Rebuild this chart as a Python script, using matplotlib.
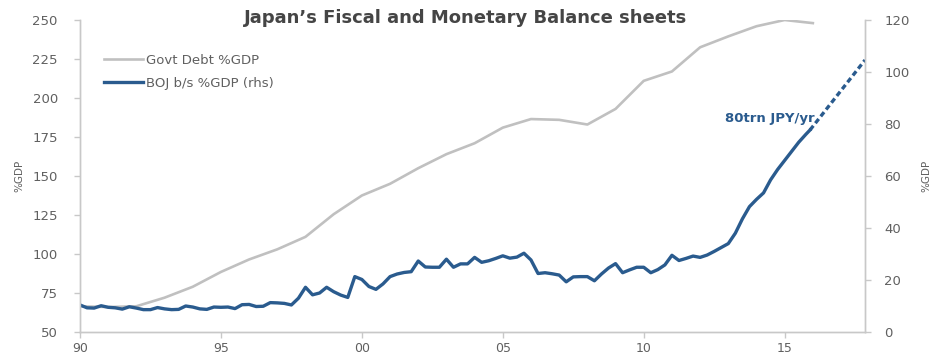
import matplotlib
matplotlib.use("Agg")
import matplotlib.pyplot as plt
from matplotlib.lines import Line2D

# Govt debt, % GDP (annual, left axis)
debt_years = [1990, 1991, 1992, 1993, 1994, 1995, 1996, 1997, 1998, 1999,
              2000, 2001, 2002, 2003, 2004, 2005, 2006, 2007, 2008, 2009,
              2010, 2011, 2012, 2013, 2014, 2015, 2016]
debt_gdp = [66.5, 66.0, 66.5, 72.0, 79.0, 88.5, 96.5, 103.0, 111.0, 125.5,
            137.5, 145.0, 155.0, 164.0, 171.0, 181.0, 186.5, 186.0, 183.0, 193.0,
            211.0, 217.0, 232.5, 239.5, 246.0, 250.0, 248.0]

# BOJ balance sheet, % GDP (quarterly, right axis)
boj_dates = [1990 + 0.25 * i for i in range(104)] + [2015.9]
boj_gdp = [10.4, 9.3, 9.2, 10.1, 9.5, 9.3, 8.8, 9.7, 9.2, 8.6, 8.6, 9.4,
           8.9, 8.6, 8.7, 10.0, 9.6, 8.9, 8.7, 9.6, 9.5, 9.6, 9.0, 10.5,
           10.6, 9.8, 9.9, 11.3, 11.2, 11.0, 10.4, 13.0, 17.2, 14.3, 15.0, 17.2,
           15.5, 14.2, 13.3, 21.3, 20.2, 17.5, 16.4, 18.5, 21.3, 22.3, 22.9, 23.2,
           27.3, 25.0, 24.9, 24.9, 28.0, 24.9, 26.2, 26.2, 28.7, 26.8, 27.4, 28.3,
           29.3, 28.4, 28.8, 30.3, 27.7, 22.5, 22.8, 22.4, 21.9, 19.3, 21.2, 21.3,
           21.3, 19.7, 22.3, 24.6, 26.3, 22.8, 23.9, 24.9, 24.9, 22.8, 24.0, 25.8,
           29.5, 27.5, 28.3, 29.2, 28.7, 29.6, 31.0, 32.5, 34.0, 38.0, 43.5, 48.2,
           51.0, 53.5, 58.5, 62.5, 66.0, 69.5, 73.0, 76.0, 77.7]

# projection at 80trn JPY/yr
proj_dates = [2015.9, 2017.85]
proj_gdp = [77.7, 104.6]

left_ticks = [50, 75, 100, 125, 150, 175, 200, 225, 250]
right_ticks = [0, 20, 40, 60, 80, 100, 120]
x_ticks = [1990, 1995, 2000, 2005, 2010, 2015]
x_labels = ['90', '95', '00', '05', '10', '15']

GREY = '#c0c0c0'
BLUE = '#2a5b8e'
TXT = '#606060'
AXC = '#c8c8c8'

fig = plt.figure(figsize=(9.31, 3.56), dpi=100)
ax = fig.add_axes([80 / 931, 24 / 356, 785 / 931, 312 / 356])
ax2 = ax.twinx()

ax.plot(debt_years, debt_gdp, color=GREY, lw=1.9, zorder=2)
ax2.plot(boj_dates, boj_gdp, color=BLUE, lw=2.4, solid_joinstyle='round')
ax2.plot(proj_dates, proj_gdp, color=BLUE, lw=2.4, linestyle=(0, (1.6, 1.0)))

ax.set_xlim(1990, 2017.85)
ax.set_ylim(50, 250)
ax2.set_ylim(0, 120)
ax.set_xticks(x_ticks)
ax.set_xticklabels(x_labels)
ax.set_yticks(left_ticks)
ax2.set_yticks(right_ticks)

for a in (ax, ax2):
    a.spines['top'].set_visible(False)
    for s in ('left', 'right', 'bottom'):
        a.spines[s].set_color(AXC)
        a.spines[s].set_linewidth(1.0)
    a.tick_params(colors=AXC, labelcolor=TXT, labelsize=9.5, length=4, width=1)
ax.tick_params(axis='y', pad=12)
ax2.tick_params(axis='y', pad=10)
ax.tick_params(axis='x', pad=3, labelsize=9)

ax.set_ylabel('%GDP', fontsize=7.5, color=TXT, labelpad=6)
ax2.set_ylabel('%GDP', fontsize=7.5, color=TXT, labelpad=8)

ax2.text(2016.05, 82, '80trn JPY/yr', color=BLUE, fontsize=9.5,
         fontweight='bold', ha='right', va='center')

fig.text(0.5, 0.95, "Japan\u2019s Fiscal and Monetary Balance sheets",
         ha='center', va='center', fontsize=13, fontweight='bold', color='#454545')

handles = [Line2D([], [], color=GREY, lw=1.9), Line2D([], [], color=BLUE, lw=2.4)]
ax2.legend(handles, ['Govt Debt %GDP', 'BOJ b/s %GDP (rhs)'], loc='upper left',
           bbox_to_anchor=(0.015, 0.93), frameon=False, fontsize=9.5,
           labelcolor=TXT, handlelength=3.0, handletextpad=0.2, labelspacing=0.75)

fig.savefig('out.png', dpi=100)
